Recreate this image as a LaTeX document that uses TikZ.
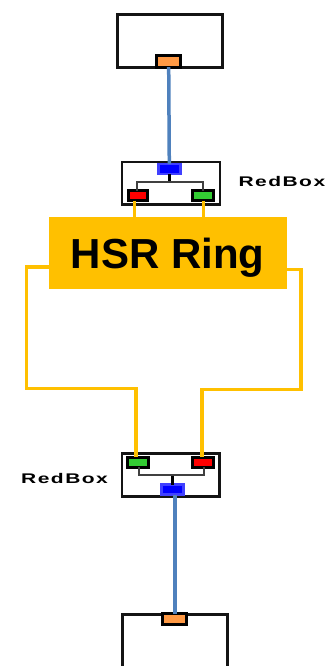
\documentclass[tikz,border=0pt]{standalone}
\usepackage{fontspec}
\setmainfont{Liberation Sans}
\begin{document}
\begin{tikzpicture}[x=1pt,y=-1pt,
  box/.style={draw=black!92,line width=3pt,fill=white,minimum width=#1,inner sep=0,outer sep=0},
  port/.style={rectangle,draw=black,line width=3pt,inner sep=0,outer sep=0,minimum width=#1,minimum height=10pt},
  blueport/.style={rectangle,draw=blue!75!white,fill=blue,line width=2.5pt,inner sep=0,outer sep=0,minimum width=22pt,minimum height=10pt},
  eth/.style={draw=ethblue,line width=3.5pt},
  ring/.style={draw=ringyellow,line width=3.5pt},
  bus/.style={draw=black!75,line width=2pt},
  stub/.style={draw=black,line width=3.5pt},
  lbl/.style={font=\fontsize{14}{16}\selectfont\bfseries\addfontfeature{LetterSpace=7},inner sep=0}]
\definecolor{ethblue}{HTML}{4F81BD}
\definecolor{ringyellow}{HTML}{FFC000}
\definecolor{portorange}{HTML}{FF9944}
\definecolor{portgreen}{HTML}{33CC33}
\useasboundingbox (0,0) rectangle (329,666);
\clip (0,0) rectangle (329,666);
% top end device
\node[box=105pt,minimum height=53pt] (topdev) at (170,40.7) {};
\node[port=24pt,fill=portorange,minimum height=11.5pt] (orangeT) at (168.7,61.3) {};
% top redbox
\node[box=98pt,minimum height=42.5pt,line width=2.8pt] (rbT) at (171,183.3) {};
\node[blueport] (blueT) at (169.3,169.2) {};
\node[port=19pt,fill=red] (redT) at (137.5,195.7) {};
\node[port=21.5pt,fill=portgreen] (greenT) at (203,195.7) {};
\coordinate (busT) at (169.3,182);
\draw[stub] (blueT.south) -- (busT);
\draw[bus] (redT.north -| 136.7,0) |- (busT) -| (greenT.north -| 202.7,0);
\draw[eth] (orangeT.south) -- (blueT.north);
\node[lbl,anchor=west] (labT) at (238.3,181.7) {\scalebox{1.5}[1]{RedBox}};
% HSR ring
\node[fill=ringyellow,minimum width=237.7pt,minimum height=71.7pt,inner sep=0,outer sep=0,text depth=0pt,
      font=\fontsize{42}{50}\selectfont\bfseries] (hsr) at (167.8,252.8) {HSR Ring};
\draw[ring] (redT.south -| 134.7,0) -- (hsr.north -| 134.7,0);
\draw[ring] (greenT.south -| 203.7,0) -- (hsr.north -| 203.7,0);
% bottom redbox
\node[box=97.5pt,minimum height=43pt,line width=2.8pt] (rbB) at (170.8,474.8) {};
\node[port=21pt,fill=portgreen] (greenB) at (138.3,462) {};
\node[port=21pt,fill=red] (redB) at (203.3,462) {};
\node[blueport] (blueB) at (172.3,489.5) {};
\coordinate (busB) at (172.3,475);
\draw[stub] (blueB.north) -- (busB);
\draw[bus] (greenB.south -| 139.3,0) |- (busB) -| (redB.south -| 204,0);
\node[lbl,anchor=west] (labB) at (21,478) {\scalebox{1.5}[1]{RedBox}};
% ring loops
\coordinate (l1) at (26.7,388.3);
\coordinate (r1) at (301,389.3);
\draw[ring] ([yshift=-14pt]hsr.west) -| (l1) -| (greenB.north -| 136,0);
\draw[ring] ([yshift=-16.5pt]hsr.east) -| (r1) -| (redB.north -| 202,0);
% bottom end device
\node[box=105.5pt,minimum height=90pt] (botdev) at (174.9,659) {};
\node[port=24pt,fill=portorange,minimum height=11pt] (orangeB) at (174.2,619.3) {};
\draw[eth] (blueB.south -| 175,0) -- (orangeB.north -| 175,0);
\end{tikzpicture}
\end{document}
